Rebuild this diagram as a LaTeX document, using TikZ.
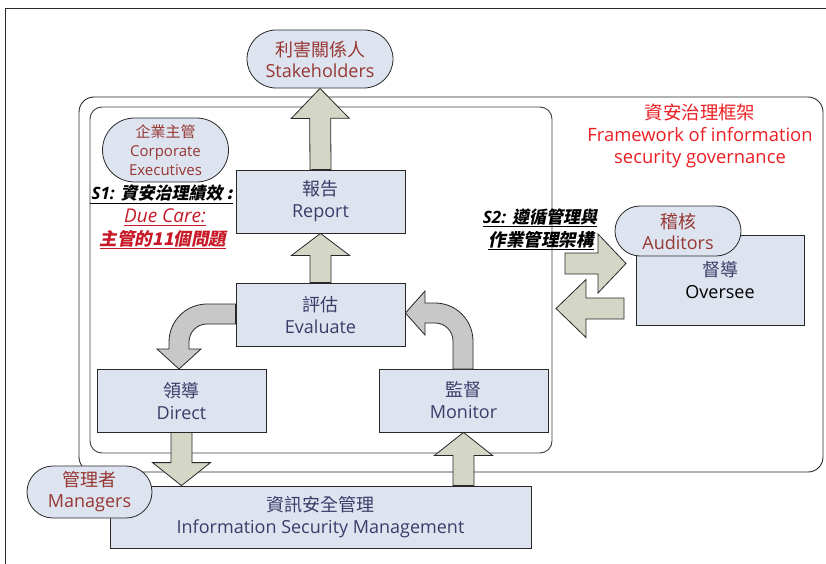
\documentclass[tikz,border=0pt]{standalone}
\usepackage{fontspec}
\setmainfont{Open Sans}
\newfontfamily\cjk{Noto Sans CJK TC}
\newfontfamily\cjksl{Noto Sans CJK TC}[FakeSlant=0.2]
\usetikzlibrary{calc}
\definecolor{boxfill}{RGB}{221,228,240}
\definecolor{linec}{RGB}{40,40,40}
\definecolor{navy}{RGB}{60,60,105}
\definecolor{brownred}{RGB}{150,55,50}
\definecolor{titlered}{RGB}{235,30,35}
\definecolor{carered}{RGB}{200,25,40}
\definecolor{garrowfill}{RGB}{212,215,198}
\definecolor{cgray}{RGB}{200,200,200}
\newcommand\barrow[6]{%
  \coordinate (ba-s) at (#2);
  \coordinate (ba-t) at (#3);
  \coordinate (ba-h) at ($(ba-t)!#6!(ba-s)$);
  \draw[#1] ($(ba-s)!#4!90:(ba-t)$) -- ($(ba-h)!#4!-90:(ba-s)$) -- ($(ba-h)!#5!-90:(ba-s)$) -- (ba-t) -- ($(ba-h)!#5!90:(ba-s)$) -- ($(ba-h)!#4!90:(ba-s)$) -- ($(ba-s)!#4!-90:(ba-t)$) -- cycle;
}
\begin{document}
\begin{tikzpicture}[x=1pt,y=-1pt,
  box/.style={draw=linec, fill=boxfill, line width=0.8pt, minimum width=169pt, minimum height=63pt, inner sep=0pt, text=navy, align=center, font=\fontsize{18}{22}\selectfont},
  pill/.style={draw=linec, fill=boxfill, line width=0.8pt, inner sep=0pt, text=brownred, align=center, font=\fontsize{18}{21}\selectfont},
  garrow/.style={draw=linec, fill=garrowfill, line width=0.8pt, line join=miter},
  carrow/.style={draw=linec, fill=cgray, line width=0.8pt, line join=miter},
  frame/.style={draw=linec, line width=0.9pt},
  ulabel/.style={inner sep=0pt, anchor=center, font=\fontsize{17}{20}\selectfont}
]
\useasboundingbox (0,0) rectangle (826,564);
% outer page frame
\draw[frame] (826,8) -- (5,8) -- (5,564);
% framework and inner frame
\draw[frame, rounded corners=15pt] (79,97) rectangle (823,472);
\draw[draw=linec!90, line width=0.9pt, rounded corners=12pt] (90,107) rectangle (552,453);
% title
\node[inner sep=0pt, align=center, text=titlered, font=\fontsize{18.4}{22}\selectfont] (title) at (700,136) {{\cjk 資安治理框架}\\Framework of information\\security governance};
% boxes
\node[box] (report) at (320.5,201.5) {{\cjk 報告}\\Report};
\node[box] (eval) at (320.5,314.5) {{\cjk 評估}\\Evaluate};
\node[box] (direct) at (181.5,400.5) {{\cjk 領導}\\Direct};
\node[box] (monitor) at (463.5,400.5) {{\cjk 監督}\\Monitor};
\node[box, minimum width=421pt, minimum height=62pt] (ism) at (320.5,517) {{\cjk 資訊安全管理}\\Information Security Management};
\node[box, minimum width=168pt, minimum height=90pt] (oversee) at (720,280) {{\cjk 督導}\\\textcolor{black}{Oversee}};
% pills
\node[pill, minimum width=146pt, minimum height=58pt, rounded corners=29pt] (stake) at (320,59) {{\cjk 利害關係人}\\Stakeholders};
\node[pill, minimum width=126pt, minimum height=64pt, rounded corners=32pt, font=\fontsize{15}{19}\selectfont] (corp) at (165.5,150) {{\cjk 企業主管}\\Corporate\\Executives};
\node[pill, minimum width=125pt, minimum height=52pt, rounded corners=26pt] (mgr) at (89.5,492) {{\cjk 管理者}\\Managers};
\node[pill, minimum width=126pt, minimum height=50pt, rounded corners=25pt] (aud) at (678,231) {{\cjk 稽核}\\Auditors};
% straight block arrows
\barrow{garrow}{report.north}{stake.south}{10.5pt}{29pt}{30pt}
\barrow{garrow}{eval.north}{report.south}{10.5pt}{29pt}{22pt}
\barrow{garrow}{direct.south}{direct.south |- ism.north}{10.5pt}{29pt}{23pt}
\barrow{garrow}{monitor.south |- ism.north}{monitor.south}{10.5pt}{29pt}{23pt}
\coordinate (toA) at (565,263.5);
\coordinate (toB) at (626,263.5);
\coordinate (frA) at (624,308.5);
\coordinate (frB) at (556,308.5);
\barrow{garrow}{toA}{toB}{10.5pt}{29.5pt}{28pt}
\barrow{garrow}{frA}{frB}{10.5pt}{29pt}{30pt}
% curved arrows
\draw[carrow] (eval.west |- 0,304) -- (207,304) .. controls (186,304) and (169,321) .. (169,342) -- (169,349) -- (157,349) -- (179,369) -- (201,349) -- (189,349) -- (189,342) .. controls (189,332) and (197,324) .. (207,324) -- (eval.west |- 0,324) -- cycle;
\draw[carrow] (453,369) -- (453,341) .. controls (453,331) and (445,323) .. (435,323) -- (425,323) -- (425,335) -- (eval.east |- 0,313) -- (425,291) -- (425,303) -- (435,303) .. controls (456,303) and (473,320) .. (473,341) -- (473,369) -- cycle;
% S1 labels
\node[ulabel] (s1) at (162,193) {{\bfseries\itshape S1: }{\cjksl\bfseries 資安治理績效 :}};
\draw[line width=1pt] (90,203) -- (s1.east |- 0,203);
\node[ulabel, text=carered, font=\fontsize{19}{22}\selectfont\itshape] (care) at (165,216) {Due Care:};
\draw[carered, line width=1pt] ([yshift=-3pt]care.base west) -- ([yshift=-3pt]care.base east);
\node[ulabel, text=carered, font=\fontsize{17.5}{20}\selectfont] (q11) at (163,239) {{\cjksl\bfseries 主管的11個問題}};
\draw[carered, line width=1pt] ([yshift=-3pt]q11.base west) -- ([yshift=-3pt]q11.base east);
% S2 labels
\node[ulabel] (s2a) at (540,217) {{\bfseries\itshape S2: }{\cjksl\bfseries 遵循管理與}};
\draw[line width=1pt] ([yshift=-3pt]s2a.base west) -- ([yshift=-3pt]s2a.base east);
\node[ulabel, font=\fontsize{17.5}{20}\selectfont] (s2b) at (541,240) {{\cjksl\bfseries 作業管理架構}};
\draw[line width=1pt] ([yshift=-3pt]s2b.base west) -- ([yshift=-3pt]s2b.base east);
\end{tikzpicture}
\end{document}
